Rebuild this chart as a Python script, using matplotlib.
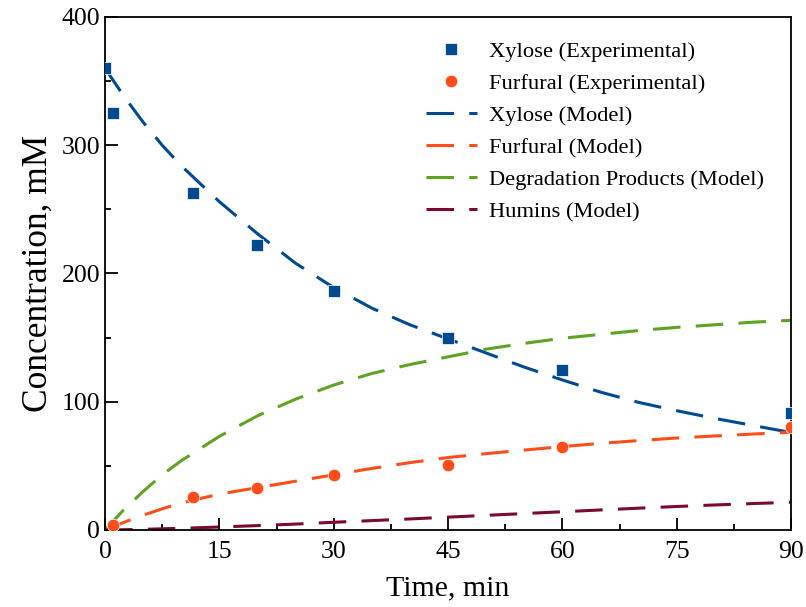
import numpy as np
import matplotlib
matplotlib.use('Agg')
import matplotlib.pyplot as plt

plt.rcParams['font.family'] = ['Liberation Serif', 'DejaVu Serif']

# experimental points
t_exp = [0, 1, 11.5, 20, 30, 45, 60, 90]
xylose_exp = [360, 325, 263, 222, 186, 150, 125, 91]
t_exp_f = [1, 11.5, 20, 30, 45, 60, 90]
furfural_exp = [4, 26, 33, 43, 51, 65, 80]

# model curves
t_mod = [0, 2.5, 5, 7.5, 10, 15, 20, 25, 30, 35, 40, 45, 50, 55, 60, 65, 70, 75, 80, 85, 90]
xylose_mod = [360, 338, 318, 300, 284, 256, 231, 208, 189, 173, 160, 149, 138, 127, 117,
              107.5, 99.5, 93, 87, 81.5, 76]
furfural_mod = [0, 6, 11.5, 16.5, 21, 28, 33, 38, 43, 48, 52.5, 56.5, 59.5, 62.3, 65,
                67.5, 69.7, 71.7, 73.3, 74.8, 76.2]
degrad_mod = [0, 16, 30, 43, 54, 73, 89, 102, 113, 122, 129, 135, 141, 145.5, 149.5,
              152.5, 155.5, 158, 160, 162, 163.5]
humins_mod = [0, 0.2, 0.5, 0.9, 1.3, 2.3, 3.4, 4.6, 6, 7.3, 8.6, 10, 11.4, 12.8, 14.2,
              15.6, 17, 18.3, 19.5, 20.6, 21.6]

c_xyl = '#004a8f'
c_fur = '#ff4d1a'
c_deg = '#5ea324'
c_hum = '#7a0a2e'

fig = plt.figure(figsize=(8.06, 6.07), dpi=100)
ax = fig.add_axes([0.1303, 0.1269, 0.8511, 0.8451])

dash = (9, 5)
ax.plot(t_exp, xylose_exp, 's', color=c_xyl, ms=9, mec='white', mew=0.5,
        label='Xylose (Experimental)', zorder=3)
ax.plot(t_exp_f, furfural_exp, 'o', color=c_fur, ms=9, mec='white', mew=0.5,
        label='Furfural (Experimental)', zorder=3)
ax.plot(t_mod, xylose_mod, color=c_xyl, lw=2.2, dashes=dash, label='Xylose (Model)')
ax.plot(t_mod, furfural_mod, color=c_fur, lw=2.2, dashes=dash, label='Furfural (Model)')
ax.plot(t_mod, degrad_mod, color=c_deg, lw=2.2, dashes=dash, label='Degradation Products (Model)')
ax.plot(t_mod, humins_mod, color=c_hum, lw=2.2, dashes=dash, label='Humins (Model)')

ax.set_xlim(0, 90)
ax.set_ylim(0, 400)
ax.set_xticks(np.arange(0, 91, 15))
ax.set_xticks(np.arange(0, 91, 7.5), minor=True)
ax.set_yticks(np.arange(0, 401, 100))
ax.set_yticks(np.arange(0, 401, 50), minor=True)
ax.tick_params(which='both', direction='in', labelsize=18.5, width=1.3)
ax.tick_params(which='major', length=9)
ax.tick_params(which='minor', length=4.5)
ax.tick_params(axis='x', pad=8)
for s in ax.spines.values():
    s.set_linewidth(1.3)

ax.set_xlabel('Time, min', fontsize=21.5, labelpad=9)
ax.set_ylabel('Concentration, mM', fontsize=25.5, labelpad=5)

ax.legend(loc='upper left', bbox_to_anchor=(0.468, 0.952), frameon=False,
          fontsize=16.2, numpoints=1, handlelength=2.25, handletextpad=0.55,
          labelspacing=0.5, borderaxespad=0, borderpad=0)

fig.savefig('out.png', dpi=100)
